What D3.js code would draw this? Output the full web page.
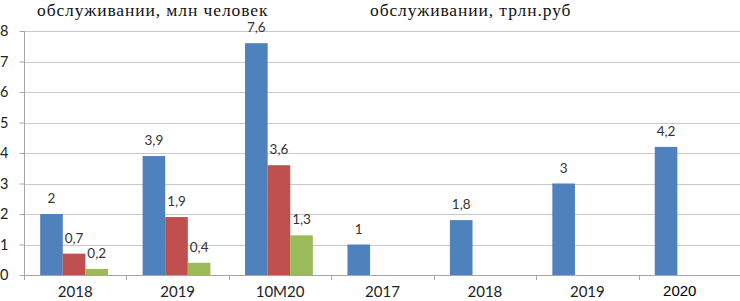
<!DOCTYPE html>
<html><head><meta charset="utf-8">
<script src="https://cdn.jsdelivr.net/npm/d3@7/dist/d3.min.js"></script>
<style>body{margin:0;background:#fff;overflow:hidden}</style>
</head><body><svg id="c" width="740" height="301"></svg>
<script>
const categories = ["2018","2019","10M20","2017","2018","2019","2020"];
const seriesBlue = [2, 3.9, 7.6, 1, 1.8, 3, 4.2];
const seriesRed = [0.7, 1.9, 3.6, null, null, null, null];
const seriesGreen = [0.2, 0.4, 1.3, null, null, null, null];
const yTicks = [0,1,2,3,4,5,6,7,8];
const titles = ["обслуживании, млн человек", "обслуживании, трлн.руб"];
const colors = ["#4f81bd", "#c0504d", "#9bbb59"];

(function(){
const svg = d3.select("#c");
const mLeft = 24, mRight = 741, mTop = 31, mBottom = 275;
const x = d3.scaleBand().domain(categories.map((d,i)=>i)).range([mLeft, mRight]).padding(0);
const bw = x.bandwidth();
const xs = d3.scaleBand().domain([0,1,2]).range([bw*0.158, bw*0.82]).padding(0);
const y = d3.scaleLinear().domain([0,8]).range([mBottom, mTop]);

// gridlines
svg.append("g").selectAll("line").data(yTicks.slice(1)).join("line")
  .attr("x1", mLeft).attr("x2", 740).attr("y1", d=>Math.round(y(d))+0.5).attr("y2", d=>Math.round(y(d))+0.5)
  .attr("stroke", "#c8c8c8").attr("stroke-width", 1);

// y axis
const ya = d3.axisLeft(y).tickValues(yTicks).tickSize(5).tickPadding(10);
const gy = svg.append("g").attr("transform", `translate(${mLeft+0.5},0)`).call(ya);
gy.select(".domain").attr("stroke", "#a6a6a6").attr("d", `M0,${y(8)}V${y(0)}`);
gy.selectAll(".tick line").attr("stroke", "#a6a6a6");
gy.selectAll(".tick text").attr("font-family", "Lato, 'Open Sans', sans-serif").attr("font-size", 14.5).attr("fill", "#222").attr("x", -16).attr("text-anchor","end");

// x axis
const xa = svg.append("g");
xa.append("line").attr("x1", mLeft).attr("x2", 740).attr("y1", mBottom+0.5).attr("y2", mBottom+0.5).attr("stroke", "#a6a6a6");
xa.selectAll("line.t").data(d3.range(categories.length+1)).join("line").attr("class","t")
  .attr("x1", i => Math.round(mLeft + i*bw)+0.5).attr("x2", i => Math.round(mLeft + i*bw)+0.5)
  .attr("y1", mBottom).attr("y2", mBottom+5).attr("stroke", "#a6a6a6");
const last = categories.length-1;
xa.selectAll("text").data(categories).join("text")
  .attr("x", (d,i)=>x(i)+bw/2 + (i===last ? -10 : 0)).attr("y", (d,i)=> i===last ? 296 : 297)
  .attr("text-anchor","middle")
  .attr("font-family", (d,i)=> i===last ? "'Liberation Sans', Arial, sans-serif" : "Lato, 'Open Sans', sans-serif")
  .attr("font-size", 15).attr("fill", (d,i)=> i===last ? "#000" : "#222")
  .text(d=>d);

// bars
const allSeries = [seriesBlue, seriesRed, seriesGreen];
const fmt = v => String(v).replace(".", ",");
allSeries.forEach((s, si) => {
  const data = s.map((v,i)=>({v,i})).filter(d=>d.v!==null);
  svg.append("g").selectAll("rect").data(data).join("rect")
    .attr("x", d=>x(d.i)+xs(si)).attr("width", xs.bandwidth())
    .attr("y", d=>y(d.v)).attr("height", d=>y(0)-y(d.v))
    .attr("fill", colors[si]);
  svg.append("g").selectAll("text").data(data).join("text")
    .attr("x", d=>x(d.i)+xs(si)+xs.bandwidth()/2).attr("y", d=>y(d.v)-11)
    .attr("text-anchor","middle").attr("font-family","Lato, 'Open Sans', sans-serif")
    .attr("font-size", 13.5).attr("fill", "#333").text(d=>fmt(d.v));
});

// titles
svg.append("text").attr("x", 37).attr("y", 16).attr("font-family","'Liberation Serif', 'Times New Roman', serif")
  .attr("font-size", 17.5).attr("letter-spacing", 0.9).attr("fill","#111").text(titles[0]);
svg.append("text").attr("x", 370).attr("y", 16).attr("font-family","'Liberation Serif', 'Times New Roman', serif")
  .attr("font-size", 17.5).attr("letter-spacing", 0.9).attr("fill","#111").text(titles[1]);
})();
</script></body></html>
